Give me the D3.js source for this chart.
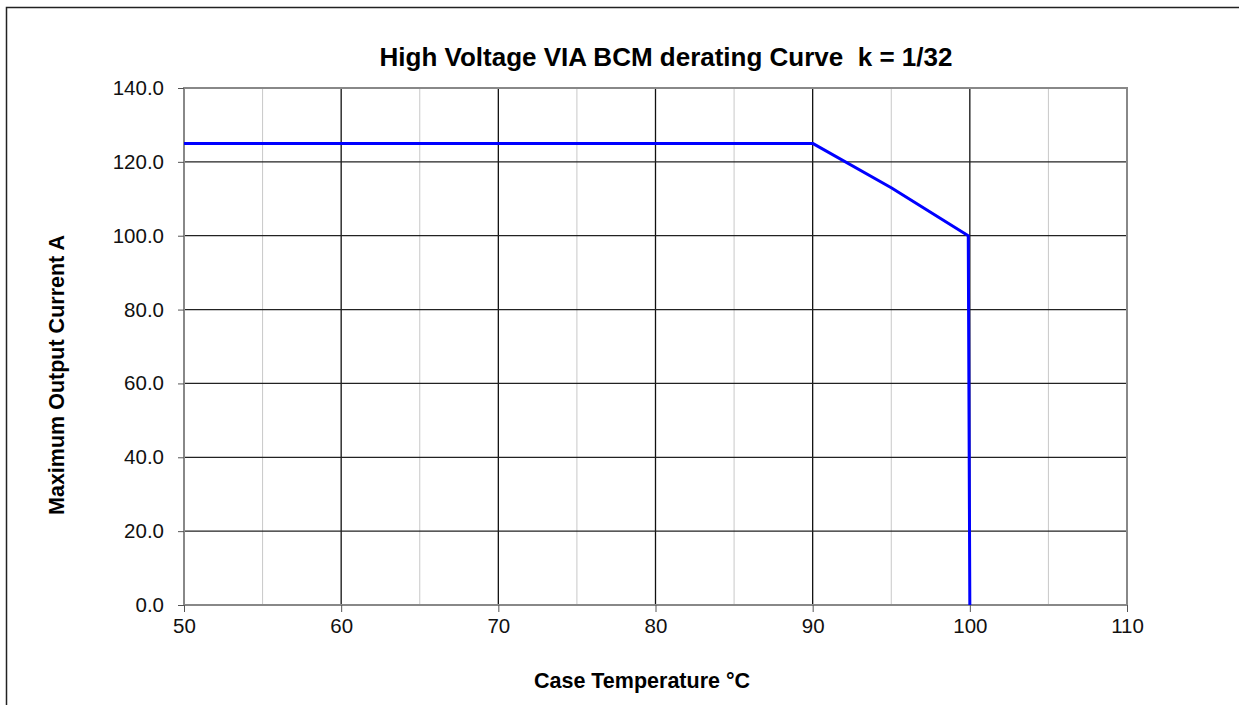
<!DOCTYPE html>
<html>
<head>
<meta charset="utf-8">
<script src="https://cdn.jsdelivr.net/npm/d3@7"></script>
<style>
  body { margin: 0; background: #fff; }
  text { font-family: Arial, "Liberation Sans", sans-serif; }
</style>
</head>
<body>
<svg id="chart"></svg>
<script>
// derating curve points
var caseTemp   = [50, 90, 95, 99.9, 100];
var maxCurrent = [125, 125, 113, 100, 0];

var xMajor = [50, 60, 70, 80, 90, 100, 110];
var xMinor = [55, 65, 75, 85, 95, 105];
var yTicks = [0, 20, 40, 60, 80, 100, 120, 140];

var width = 1239, height = 705;
var plotL = 184, plotR = 1127, plotT = 88, plotB = 605;

var svg = d3.select('#chart').attr('width', width).attr('height', height);

// outer frame (only top and left edges visible in the picture)
svg.append('rect')
  .attr('x', 6.5).attr('y', 7.5)
  .attr('width', width + 20).attr('height', height + 20)
  .attr('fill', 'none').attr('stroke', '#222').attr('stroke-width', 1.5);

var x = d3.scaleLinear().domain([50, 110]).range([plotL, plotR]);
var y = d3.scaleLinear().domain([0, 140]).range([plotB, plotT]);

// minor vertical grid
svg.append('g').selectAll('line')
  .data(xMinor)
  .enter().append('line')
    .attr('x1', function (d) { return x(d) }).attr('x2', function (d) { return x(d) })
    .attr('y1', plotT).attr('y2', plotB)
    .attr('stroke', '#c8c8c8').attr('stroke-width', 1);

// major vertical grid
svg.append('g').selectAll('line')
  .data(xMajor.slice(1, -1))
  .enter().append('line')
    .attr('x1', function (d) { return x(d) }).attr('x2', function (d) { return x(d) })
    .attr('y1', plotT).attr('y2', plotB)
    .attr('stroke', '#111').attr('stroke-width', 1.3);

// horizontal grid
svg.append('g').selectAll('line')
  .data(yTicks.slice(1, -1))
  .enter().append('line')
    .attr('x1', plotL).attr('x2', plotR)
    .attr('y1', function (d) { return y(d) }).attr('y2', function (d) { return y(d) })
    .attr('stroke', '#222').attr('stroke-width', 1.2);

// plot frame
svg.append('rect')
  .attr('x', plotL).attr('y', plotT)
  .attr('width', plotR - plotL).attr('height', plotB - plotT)
  .attr('fill', 'none').attr('stroke', '#888').attr('stroke-width', 2);

// axes
var yAxis = d3.axisLeft(y).tickValues(yTicks).tickSize(6).tickPadding(14)
  .tickFormat(d3.format('.1f'));
var gy = svg.append('g').attr('transform', 'translate(' + plotL + ',0)').call(yAxis);

var xAxis = d3.axisBottom(x).tickValues(xMajor).tickSize(7).tickPadding(6)
  .tickFormat(d3.format('d'));
var gx = svg.append('g').attr('transform', 'translate(0,' + plotB + ')').call(xAxis);

[gx, gy].forEach(function (g) {
  g.select('.domain').remove();
  g.selectAll('line').attr('stroke', '#555');
  g.selectAll('text').attr('font-size', 20.5).attr('fill', '#111')
    .attr('font-family', 'Arial, "Liberation Sans", sans-serif');
});

// the curve
var line = d3.line()
  .x(function (d, i) { return x(caseTemp[i]) })
  .y(function (d) { return y(d) });

svg.append('path')
  .datum(maxCurrent)
  .attr('d', line)
  .attr('fill', 'none')
  .attr('stroke', '#0000ff')
  .attr('stroke-width', 3)
  .attr('stroke-linejoin', 'round');

// titles
svg.append('text')
  .attr('x', 666).attr('y', 66)
  .attr('text-anchor', 'middle')
  .attr('font-size', 26).attr('font-weight', 'bold')
  .attr('xml:space', 'preserve')
  .text('High Voltage VIA BCM derating Curve  k = 1/32');

svg.append('text')
  .attr('x', 642).attr('y', 688)
  .attr('text-anchor', 'middle')
  .attr('font-size', 21.5).attr('font-weight', 'bold')
  .text('Case Temperature °C');

svg.append('text')
  .attr('transform', 'translate(64,375) rotate(-90)')
  .attr('text-anchor', 'middle')
  .attr('font-size', 21.5).attr('font-weight', 'bold')
  .text('Maximum Output Current A');
</script>
</body>
</html>
